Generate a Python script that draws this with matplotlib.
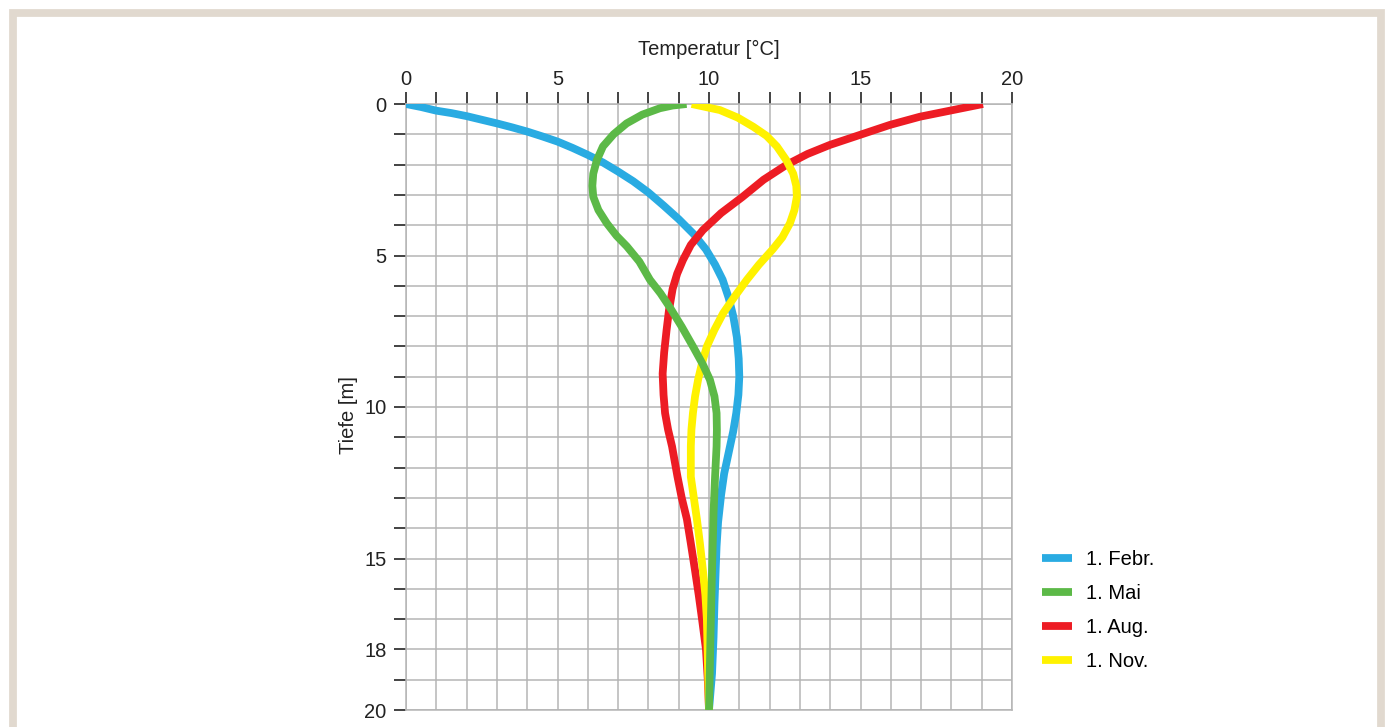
import matplotlib

matplotlib.use("Agg")
import matplotlib.pyplot as plt
from matplotlib.patches import Rectangle

# depth profiles: (temperature [°C], depth [m])
feb_temp = [0.0, 0.5, 1.0, 1.5, 2.0, 2.5, 3.0, 3.5, 4.0, 4.5, 5.0, 5.5, 6.0,
            6.5, 7.0, 7.5, 8.0, 8.5, 9.0, 9.5, 9.9, 10.2, 10.45, 10.65, 10.8,
            10.92, 10.98, 11.0, 10.97, 10.9, 10.8, 10.65, 10.5, 10.4, 10.3,
            10.25, 10.22, 10.18, 10.15, 10.1, 10.0]
feb_depth = [0.0, 0.1, 0.22, 0.3, 0.4, 0.52, 0.64, 0.77, 0.91, 1.07, 1.24,
             1.45, 1.68, 1.93, 2.23, 2.55, 2.92, 3.35, 3.8, 4.3, 4.8, 5.3,
             5.8, 6.4, 7.0, 7.7, 8.4, 9.0, 9.6, 10.2, 10.8, 11.5, 12.2, 12.9,
             13.8, 14.6, 15.4, 16.5, 17.6, 18.8, 20.0]

mai_temp = [9.26, 8.8, 8.38, 7.8, 7.28, 6.85, 6.5, 6.3, 6.18, 6.15, 6.18,
            6.35, 6.63, 6.95, 7.29, 7.7, 8.05, 8.4, 8.7, 9.1, 9.47, 9.8,
            10.03, 10.18, 10.25, 10.26, 10.25, 10.2, 10.15, 10.1, 10.05, 10.0]
mai_depth = [0.0, 0.05, 0.14, 0.35, 0.64, 1.0, 1.4, 1.85, 2.3, 2.7, 3.06,
             3.5, 3.94, 4.35, 4.7, 5.2, 5.8, 6.25, 6.7, 7.35, 8.0, 8.6,
             9.1, 9.65, 10.2, 10.75, 11.3, 12.3, 13.5, 15.4, 17.5, 20.0]

aug_temp = [19.04, 18.05, 16.96, 15.97, 14.98, 13.99, 13.25, 12.57, 11.8,
            11.1, 10.4, 9.8, 9.4, 9.14, 8.95, 8.8, 8.68, 8.6, 8.52, 8.47,
            8.5, 8.55, 8.65, 8.78, 8.96, 9.1, 9.27, 9.4, 9.54, 9.66, 9.77,
            9.9, 9.96, 10.0]
aug_depth = [0.0, 0.2, 0.42, 0.69, 1.02, 1.35, 1.65, 2.0, 2.5, 3.07, 3.6,
             4.16, 4.65, 5.15, 5.6, 6.1, 6.8, 7.46, 8.2, 8.9, 9.6, 10.2,
             10.75, 11.3, 12.3, 13.0, 13.7, 14.5, 15.4, 16.2, 17.0, 18.0,
             19.0, 20.0]

nov_temp = [9.43, 10.36, 10.95, 11.46, 11.9, 12.24, 12.55, 12.78, 12.88,
            12.9, 12.82, 12.67, 12.42, 12.1, 11.65, 11.25, 10.85, 10.47,
            10.18, 9.93, 9.77, 9.64, 9.54, 9.47, 9.42, 9.4, 9.4, 9.5, 9.6,
            9.7, 9.8, 9.88, 9.93, 9.97, 10.0]
nov_depth = [0.0, 0.2, 0.45, 0.75, 1.05, 1.4, 1.85, 2.3, 2.7, 3.06, 3.5,
             3.94, 4.4, 4.8, 5.3, 5.8, 6.35, 6.9, 7.45, 8.0, 8.55, 9.1,
             9.65, 10.2, 10.75, 11.3, 12.3, 13.0, 13.7, 14.5, 15.4, 16.2,
             17.0, 18.7, 20.0]

series_labels = ["1. Febr.", "1. Mai", "1. Aug.", "1. Nov."]
series_colors = ["#29abe2", "#5cb947", "#ed1c24", "#fff200"]

x_ticks = list(range(0, 21))
x_labeled = [0, 5, 10, 15, 20]
y_ticks = list(range(0, 21))
y_labeled = [0, 5, 10, 15, 18, 20]

plt.rcParams["font.family"] = ["Liberation Sans", "DejaVu Sans"]

W, H = 1389, 727
fig = plt.figure(figsize=(W / 100, H / 100), dpi=100)
fig.patches.append(
    Rectangle((13 / W, -0.2), (1381 - 13) / W, 1.2 - 13 / H,
              transform=fig.transFigure, fill=False,
              edgecolor="#e1d9cf", linewidth=5.6)
)

ax = fig.add_axes([406 / W, 1 - 710 / H, 606 / W, 606 / H])
ax.set_xlim(0, 20)
ax.set_ylim(20, 0)

profiles = [
    (feb_temp, feb_depth),
    (aug_temp, aug_depth),
    (nov_temp, nov_depth),
    (mai_temp, mai_depth),
]
order = [0, 2, 3, 1]
for (temp, depth), idx in zip(profiles, order):
    ax.plot(temp, depth, color=series_colors[idx], linewidth=5.6,
            solid_capstyle="butt", solid_joinstyle="round",
            label=series_labels[idx], zorder=3)

ax.xaxis.tick_top()
ax.set_xticks(x_ticks)
ax.set_xticklabels([str(v) if v in x_labeled else "" for v in x_ticks])
ax.set_yticks(y_ticks)
ax.set_yticklabels([str(v) if v in y_labeled else "" for v in y_ticks])
ax.tick_params(axis="both", length=9, width=1.2, color="#222222",
               labelcolor="#222222", labelsize=14.5)
ax.tick_params(axis="x", pad=1.5)
ax.tick_params(axis="y", pad=5)
ax.grid(True, color="#b5b5b5", linewidth=1.1)
ax.set_axisbelow(True)
for spine in ax.spines.values():
    spine.set_color("#b5b5b5")
    spine.set_linewidth(1.1)

ax.xaxis.set_label_position("top")
ax.set_xlabel("Temperatur [°C]", fontsize=14.5, color="#222222")
ax.xaxis.set_label_coords(0.5, 1 + (104 - 55) / 606)
ax.set_ylabel("Tiefe [m]", fontsize=14.5, color="#222222")
ax.yaxis.set_label_coords((358 - 406) / 606, 1 - (415 - 104) / 606)

handles, labels = ax.get_legend_handles_labels()
by_label = dict(zip(labels, handles))
ax.legend(
    [by_label[l] for l in series_labels], series_labels,
    loc="upper left", bbox_to_anchor=(1042 / W, 1 - 550 / H),
    bbox_transform=fig.transFigure, frameon=False, fontsize=14.5,
    handlelength=1.5, handletextpad=0.7, labelspacing=0.75,
    borderpad=0, borderaxespad=0,
)

fig.savefig("out.png", dpi=100)
plt.close(fig)
